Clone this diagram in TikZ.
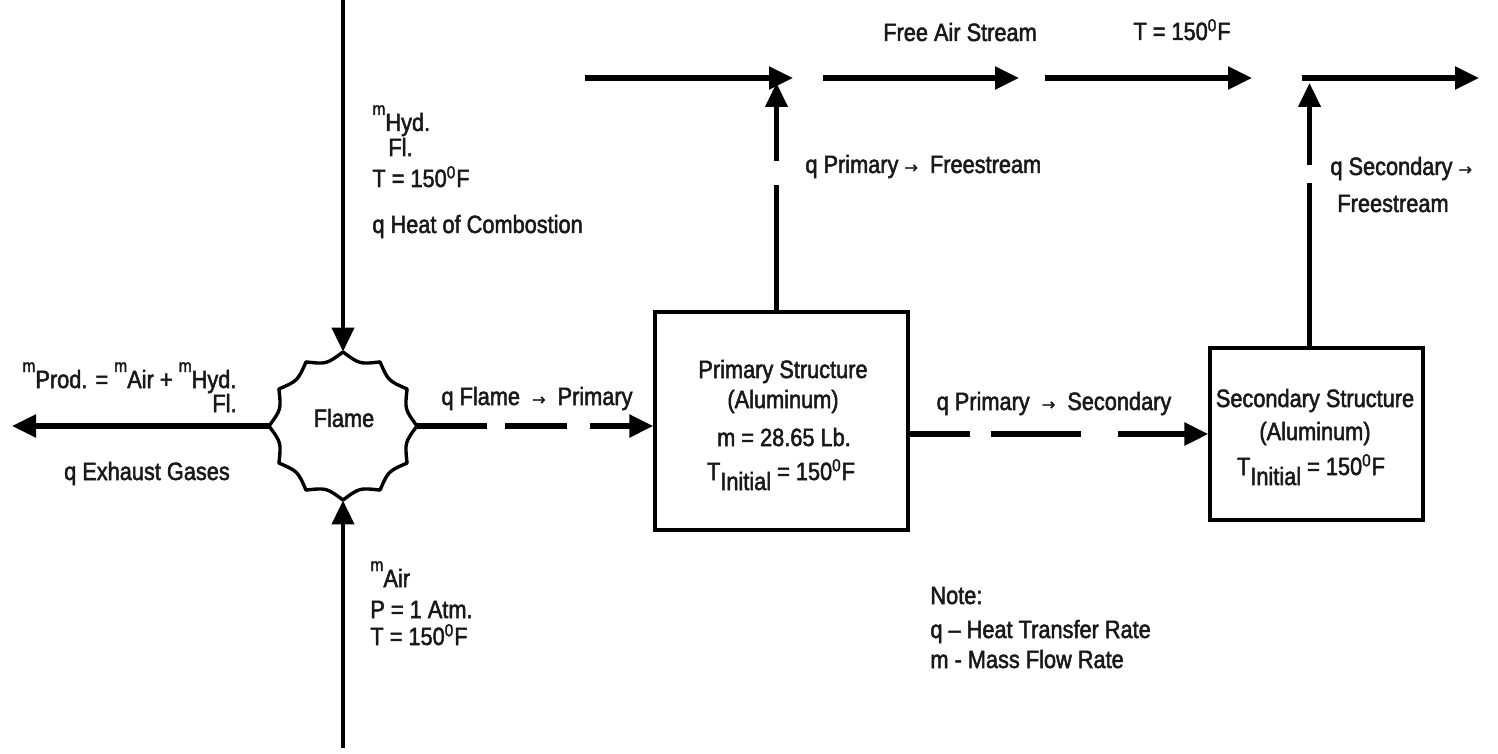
\documentclass[tikz,border=0pt]{standalone}
\usepackage{fontspec}
\setmainfont[FakeStretch=0.87,FakeBold=2]{Liberation Sans}
\newfontfamily\arrowfont[FakeBold=1.5]{DejaVu Sans}
\usetikzlibrary{arrows.meta,calc}
\newcommand\msup{\raisebox{8pt}{\fontsize{9}{9}\selectfont m}}
\newcommand\lowsub[1]{\raisebox{-5pt}{#1}}
\newcommand\degF{150\textsuperscript{0}F}
\newcommand\smarrow{{\arrowfont\fontsize{8}{8}\selectfont →}}
\begin{document}
\begin{tikzpicture}[x=0.5pt,y=-0.5pt,
  txt/.style={font=\fontsize{12.5}{15}\selectfont, inner sep=0pt, text=black!90},
  arr/.style={line width=2.6pt, -{Triangle[length=12pt,width=11pt]}},
  thinarr/.style={line width=2.1pt, -{Triangle[length=12pt,width=11pt]}},
  box/.style={draw, line width=1.6pt, inner sep=0pt},
  flameline/.style={line width=1.7pt, line join=round}]
\useasboundingbox (0,0) rectangle (1498,754);
\fill[white] (0,0) rectangle (1498,754);

% nodes
\node[circle, inner sep=0pt, minimum size=74pt, draw=none] (flame) at (343,426) {};
\node[txt] (flametxt) at (344,418) {Flame};
\node[box, minimum width=126.5pt, minimum height=109pt] (prim) at (781.5,421) {};
\node[box, minimum width=106.5pt, minimum height=86pt] (sec) at (1316.5,434) {};

% flame outline
\draw[flameline] ($(flame.center)+(0:74)$)
  \foreach \a in {0,30,...,330}{ .. controls ($(flame.center)+(\a+15:64)$) .. ($(flame.center)+(\a+30:74)$) } -- cycle;

% coordinates
\coordinate (topin) at (347,0);
\coordinate (botin) at (347,748);
\coordinate (leftend) at (12,428);
\coordinate (fsy) at (0,83);
\coordinate (fs1s) at (585,78);  \coordinate (fs1e) at (793,78);
\coordinate (fs2s) at (823,78);  \coordinate (fs2e) at (1019,78);
\coordinate (fs3s) at (1045,78); \coordinate (fs3e) at (1252,78);
\coordinate (fs4s) at (1302,78); \coordinate (fs4e) at (1479,78);
\coordinate (pv) at ($(prim.north)+(-5,0)$);
\coordinate (sv) at ($(sec.north)+(-7,0)$);

% connectors
\draw[thinarr] (flame.north |- topin) -- (flame.north);
\draw[thinarr] (flame.south |- botin) -- (flame.south);
\draw[arr] (flame.west) -- (flame.west -| leftend);
\draw[arr, dash pattern=on 35pt off 9pt on 31pt off 11.5pt on 60pt off 1pt] (flame.east) -- (flame.east -| prim.west);
\draw[arr, dash pattern=on 30pt off 10.5pt on 45pt off 18.5pt on 60pt off 1pt] (prim.east |- sec.west) -- (sec.west);
\draw[thinarr, dash pattern=on 62.5pt off 12pt on 300pt off 1pt] (pv) -- (pv |- fsy);
\draw[thinarr, dash pattern=on 81.5pt off 9pt on 300pt off 1pt] (sv) -- (sv |- fsy);
\draw[arr] (fs1s) -- (fs1e);
\draw[arr] (fs2s) -- (fs2e);
\draw[arr] (fs3s) -- (fs3e);
\draw[arr] (fs4s) -- (fs4e);

% labels
\node[txt, anchor=base] (fas) at (960,41) {Free Air Stream};
\node[txt, anchor=base] (fat) at (1182,40) {T = \degF};

\node[txt, anchor=base west] (hyd) at (372,131) {\msup Hyd.};
\node[txt, anchor=base west] (hydfl) at (388,156) {Fl.};
\node[txt, anchor=base west] (hydt) at (372,187) {T = \degF};
\node[txt, anchor=base west] (hydq) at (372,233) {q Heat of Combostion};

\node[txt, anchor=base west] (prod) at (22,388) {\msup Prod. = \msup Air + \msup Hyd.};
\node[txt, anchor=base west] (prodfl) at (212,412) {Fl.};
\node[txt, anchor=base] (exh) at (147,480) {q Exhaust Gases};

\node[txt, anchor=base] (qfp) at (537,405) {q Flame \ \smarrow\ \ Primary};
\node[txt, anchor=base] (qps) at (1054,410) {q Primary \ \smarrow\ \ Secondary};
\node[txt, anchor=base west] (qpf) at (805,173) {q Primary \smarrow\ \ Freestream};
\node[txt, anchor=base west] (qsf1) at (1330,175) {q Secondary \smarrow};
\node[txt, anchor=base west] (qsf2) at (1337,212) {Freestream};

\node[txt, anchor=base] (p1) at (783,378) {Primary Structure};
\node[txt, anchor=base] (p2) at (783,408) {(Aluminum)};
\node[txt, anchor=base] (p3) at (784,446) {m = 28.65 Lb.};
\node[txt, anchor=base] (p4) at (781,480) {T\lowsub{Initial} = \degF};

\node[txt, anchor=base] (s1) at (1315,407) {Secondary Structure};
\node[txt, anchor=base] (s2) at (1315,440) {(Aluminum)};
\node[txt, anchor=base] (s3) at (1311,475) {T\lowsub{Initial} = \degF};

\node[txt, anchor=base west] (air1) at (370,587) {\msup Air};
\node[txt, anchor=base west] (air2) at (370,618) {P = 1 Atm.};
\node[txt, anchor=base west] (air3) at (370,645) {T = \degF};

\node[txt, anchor=base west] (n1) at (930,604) {Note:};
\node[txt, anchor=base west] (n2) at (930,638) {q -- Heat Transfer Rate};
\node[txt, anchor=base west] (n3) at (930,668) {m - Mass Flow Rate};
\end{tikzpicture}
\end{document}
